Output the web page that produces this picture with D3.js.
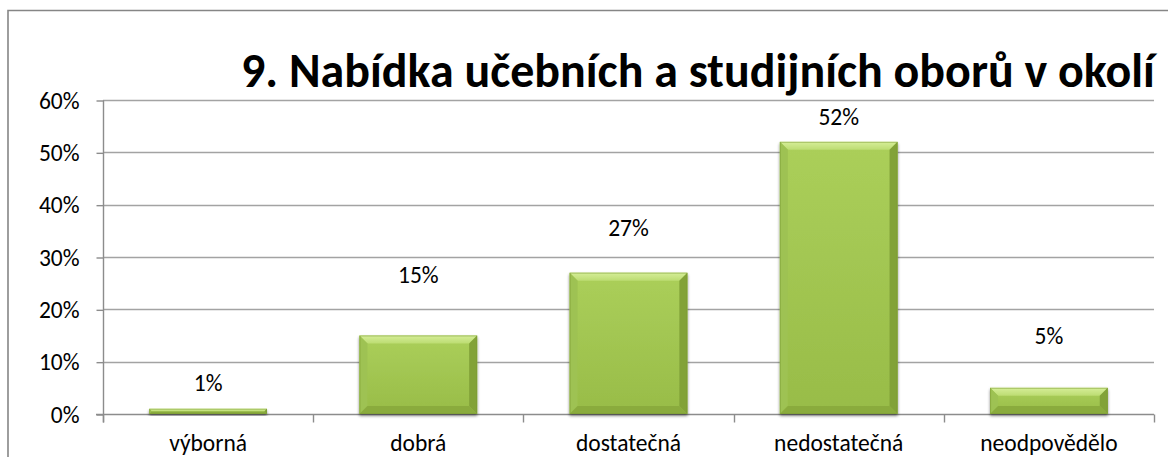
<!DOCTYPE html>
<html>
<head>
<meta charset="utf-8">
<script src="https://cdn.jsdelivr.net/npm/d3@7"></script>
<style>
  html, body { margin: 0; padding: 0; background: #fff; overflow: hidden; }
  svg { display: block; }
  text { font-family: Carlito, Calibri, Lato, "Open Sans", sans-serif; fill: #000; }
</style>
</head>
<body>
<svg id="chart" width="1168" height="457"></svg>
<script>
// Survey question 9: local offer of apprenticeship and study programmes
const chartTitle = "9. Nabídka učebních a studijních oborů v okolí";
const categories = ["výborná", "dobrá", "dostatečná", "nedostatečná", "neodpovědělo"];
const shares = [1, 15, 27, 52, 5];            // percent of respondents
const yTicks = [0, 10, 20, 30, 40, 50, 60];   // percent

(function draw() {
  const svg = d3.select("#chart");
  const W = 1168, H = 457;
  const fs = 23.5;

  // plot area
  const plotL = 103, plotR = 1154, plotT = 100, plotB = 414;

  // outer chart frame (continues past the right and bottom edges)
  svg.append("path")
    .attr("d", `M8,${H + 5} L8,10.5 L${W + 5},10.5`)
    .attr("fill", "none")
    .attr("stroke", "#868686")
    .attr("stroke-width", 1.6);

  const x = d3.scaleBand().domain(categories).range([plotL, plotR]).paddingInner(0.44).paddingOuter(0.22);
  const xCat = d3.scaleBand().domain(categories).range([plotL, plotR]);
  const y = d3.scaleLinear().domain([0, 60]).range([plotB, plotT]);

  // gridlines
  svg.append("g").selectAll("line").data(yTicks.filter(t => t > 0)).join("line")
    .attr("x1", plotL).attr("x2", plotR)
    .attr("y1", d => Math.round(y(d)) + 0.5).attr("y2", d => Math.round(y(d)) + 0.5)
    .attr("stroke", "#a3a3a3").attr("stroke-width", 1.4);

  // y axis
  const yAxis = d3.axisLeft(y).tickValues(yTicks).tickFormat(d => d + "%").tickSize(7).tickPadding(17);
  const gy = svg.append("g").attr("transform", `translate(${plotL + 0.5},0.5)`).call(yAxis);
  gy.select(".domain").attr("d", `M0,${plotT}V${plotB + 8}`).attr("stroke", "#8c8c8c").attr("stroke-width", 1.4);
  gy.selectAll(".tick line").attr("stroke", "#8c8c8c").attr("stroke-width", 1.4);
  gy.selectAll(".tick text").attr("font-size", fs).attr("fill", "#000")
    .style("font-family", "Carlito, Calibri, Lato, sans-serif");

  // x axis: category boundaries marked with ticks
  const bounds = categories.map(c => xCat(c)).concat([plotR]);
  const gx = svg.append("g").attr("transform", `translate(0,${plotB + 0.5})`);
  gx.append("line").attr("x1", plotL - 7).attr("x2", plotR).attr("y1", 0).attr("y2", 0)
    .attr("stroke", "#8c8c8c").attr("stroke-width", 1.4);
  gx.selectAll("line.tk").data(bounds).join("line").attr("class", "tk")
    .attr("x1", d => Math.round(d) + 0.5).attr("x2", d => Math.round(d) + 0.5)
    .attr("y1", 0).attr("y2", 8)
    .attr("stroke", "#8c8c8c").attr("stroke-width", 1.4);
  gx.selectAll("text").data(categories).join("text")
    .attr("x", d => xCat(d) + xCat.bandwidth() / 2)
    .attr("y", 36)
    .attr("text-anchor", "middle")
    .attr("font-size", fs)
    .text(d => d);

  // bar gradients
  const defs = svg.append("defs");
  const face = defs.append("linearGradient").attr("id", "face").attr("x1", 0).attr("y1", 0).attr("x2", 0).attr("y2", 1);
  face.append("stop").attr("offset", "0%").attr("stop-color", "#abcf5a");
  face.append("stop").attr("offset", "100%").attr("stop-color", "#98bc48");
  const topFace = defs.append("linearGradient").attr("id", "topFace").attr("x1", 0).attr("y1", 0).attr("x2", 0).attr("y2", 1);
  topFace.append("stop").attr("offset", "0%").attr("stop-color", "#d6ee98");
  topFace.append("stop").attr("offset", "100%").attr("stop-color", "#bcdc72");
  const shadow = defs.append("filter").attr("id", "shadow").attr("x", "-10%").attr("y", "-10%").attr("width", "120%").attr("height", "130%");
  shadow.append("feGaussianBlur").attr("in", "SourceAlpha").attr("stdDeviation", 1.6);
  shadow.append("feOffset").attr("dx", 0).attr("dy", 1.5).attr("result", "b");
  shadow.append("feComponentTransfer").append("feFuncA").attr("type", "linear").attr("slope", 0.45);
  const mg = shadow.append("feMerge");
  mg.append("feMergeNode");
  mg.append("feMergeNode").attr("in", "SourceGraphic");

  // bevelled bars
  const bars = svg.append("g").selectAll("g").data(categories.map((c, i) => ({ c, v: shares[i] }))).join("g")
    .attr("filter", "url(#shadow)");
  bars.each(function (d) {
    const g = d3.select(this);
    const x0 = x(d.c), x1 = x0 + x.bandwidth();
    const y0 = y(d.v), y1 = y(0);
    const b = Math.min(8, (y1 - y0) / 2);
    g.append("rect").attr("x", x0).attr("y", y0).attr("width", x1 - x0).attr("height", y1 - y0).attr("fill", "url(#face)");
    // top bevel
    g.append("path").attr("d", `M${x0},${y0}L${x1},${y0}L${x1 - b},${y0 + b}L${x0 + b},${y0 + b}Z`).attr("fill", "url(#topFace)");
    // left bevel
    g.append("path").attr("d", `M${x0},${y0}L${x0 + b},${y0 + b}L${x0 + b},${y1 - b}L${x0},${y1}Z`).attr("fill", "#9ec252");
    // right bevel
    g.append("path").attr("d", `M${x1},${y0}L${x1 - b},${y0 + b}L${x1 - b},${y1 - b}L${x1},${y1}Z`).attr("fill", "#82a238");
    // bottom bevel
    g.append("path").attr("d", `M${x0},${y1}L${x0 + b},${y1 - b}L${x1 - b},${y1 - b}L${x1},${y1}Z`).attr("fill", "#8aab3e");
    g.append("rect").attr("x", x0 + 0.5).attr("y", y0 + 0.5).attr("width", x1 - x0 - 1).attr("height", y1 - y0 - 1)
      .attr("fill", "none").attr("stroke", "#7a9a33").attr("stroke-opacity", 0.5).attr("stroke-width", 1);
  });

  // value labels, lifted above each bar
  const labelLift = [26, 61, 45, 25, 52];
  svg.append("g").selectAll("text").data(categories).join("text")
    .attr("x", d => x(d) + x.bandwidth() / 2)
    .attr("y", (d, i) => y(shares[i]) - labelLift[i] + 8)
    .attr("text-anchor", "middle")
    .attr("font-size", fs)
    .text((d, i) => shares[i] + "%");

  // title, fitted to its span
  const title = svg.append("text")
    .attr("x", 241).attr("y", 87)
    .attr("font-size", 38).attr("font-weight", "bold")
    .text(chartTitle);
  const wanted = 1155 - 241;
  const got = title.node().getComputedTextLength();
  title.attr("font-size", 38 * wanted / got);
})();
</script>
</body>
</html>
